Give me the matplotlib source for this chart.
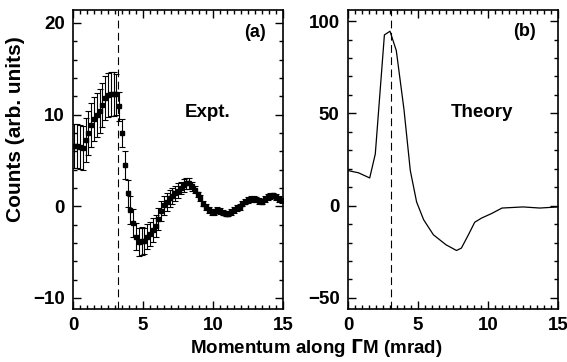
import numpy as np
import matplotlib.pyplot as plt
from matplotlib.ticker import MultipleLocator

plt.rcParams['font.family'] = ['Liberation Sans', 'DejaVu Sans']
plt.rcParams['font.weight'] = 'bold'
plt.rcParams['mathtext.fontset'] = 'dejavusans'

# 實驗數據 (a)
expt_x = [0.1, 0.3, 0.5, 0.7, 0.9, 1.1, 1.3, 1.5, 1.7, 1.9,
          2.1, 2.3, 2.5, 2.7, 2.9, 3.1, 3.3, 3.5, 3.7, 3.9,
          4.1, 4.3, 4.5, 4.7, 4.9, 5.1, 5.3, 5.5, 5.7, 5.9,
          6.1, 6.3, 6.5, 6.7, 6.9, 7.1, 7.3, 7.5, 7.7, 7.9,
          8.1, 8.3, 8.5, 8.7, 8.9, 9.1, 9.3, 9.5, 9.7, 9.9,
          10.1, 10.3, 10.5, 10.7, 10.9, 11.1, 11.3, 11.5, 11.7, 11.9,
          12.1, 12.3, 12.5, 12.7, 12.9, 13.1, 13.3, 13.5, 13.7, 13.9,
          14.1, 14.3, 14.5, 14.7, 14.9]
expt_y = [6.6, 6.6, 6.5, 6.4, 7.2, 8.0, 8.9, 9.5, 10.0, 10.4,
          11.0, 11.8, 12.1, 12.2, 12.25, 12.2, 10.9, 8.0, 4.5, 1.4,
          -0.4, -1.8, -3.3, -3.9, -3.8, -3.8, -3.3, -3.0, -2.6, -2.1,
          -1.4, -0.5, 0.1, 0.5, 0.85, 1.1, 1.4, 1.7, 2.0, 2.3,
          2.5, 2.5, 2.2, 1.8, 1.3, 0.9, 0.3, -0.1, -0.4, -0.6,
          -0.6, -0.4, -0.5, -0.7, -0.8, -0.8, -0.6, -0.4, -0.2, -0.1,
          0.3, 0.5, 0.7, 0.8, 0.8, 0.75, 0.6, 0.5, 0.8, 1.0,
          1.1, 1.2, 1.0, 0.8, 0.65]
expt_err = [2.4, 2.4, 2.4, 2.4, 2.4, 2.4, 2.4, 2.4, 2.4, 2.4,
            2.4, 2.4, 2.4, 2.4, 2.4, 2.2, 1.6, 1.5, 1.5, 1.5,
            1.5, 1.5, 1.5, 1.5, 1.5, 1.4, 1.4, 1.3, 1.3, 1.2,
            1.2, 1.1, 1.0, 1.0, 0.9, 0.9, 0.8, 0.8, 0.7, 0.7,
            0.6, 0.6, 0.5, 0.4, 0.3, 0.3, 0.3, 0.3, 0.3, 0.3,
            0.3, 0.3, 0.3, 0.3, 0.3, 0.3, 0.3, 0.3, 0.3, 0.3,
            0.3, 0.3, 0.3, 0.3, 0.3, 0.3, 0.3, 0.3, 0.3, 0.3,
            0.3, 0.3, 0.3, 0.3, 0.3]

# 理論曲線 (b)
theory_x = [0.0, 0.75, 1.55, 1.95, 2.6, 3.0, 3.45, 4.0, 4.45, 4.9,
            5.4, 6.1, 7.0, 7.75, 8.1, 8.6, 9.05, 9.55, 10.25, 11.0,
            12.5, 13.7, 15.0]
theory_y = [19.0, 17.8, 15.0, 28.0, 92.5, 94.5, 84.0, 52.0, 19.0, 2.0,
            -7.6, -15.8, -21.2, -24.3, -23.0, -15.8, -9.0, -6.7, -4.3, -1.3,
            -0.7, -1.3, -0.7]

fig = plt.figure(figsize=(5.67, 3.62), dpi=100)
ax1 = fig.add_axes([73 / 567, 1 - 309 / 362, 210 / 567, 299 / 362])
ax2 = fig.add_axes([348 / 567, 1 - 309 / 362, 210 / 567, 299 / 362])

ax1.errorbar(expt_x, expt_y, yerr=expt_err, fmt='s', color='black',
             markersize=3.2, elinewidth=0.8, capsize=2, capthick=0.8)
ax1.axvline(3.2, color='black', lw=0.8, dashes=(7, 4))
ax1.set_xlim(0, 15)
ax1.set_ylim(-11.2, 21.4)
ax1.yaxis.set_major_locator(MultipleLocator(10))
ax1.yaxis.set_minor_locator(MultipleLocator(2))
ax1.text(13.0, 18.9, '(a)', ha='center', va='center', fontsize=13, fontweight='bold')
ax1.text(9.6, 10.2, 'Expt.', ha='center', va='center', fontsize=13.5, fontweight='bold')
ax1.set_ylabel('Counts (arb. units)', fontsize=15, fontweight='bold')
ax1.yaxis.set_label_coords(-0.23, 0.6)

ax2.plot(theory_x, theory_y, color='black', lw=0.9)
ax2.axvline(3.05, color='black', lw=0.8, dashes=(7, 4))
ax2.set_xlim(0, 15)
ax2.set_ylim(-56, 106)
ax2.yaxis.set_major_locator(MultipleLocator(50))
ax2.yaxis.set_minor_locator(MultipleLocator(10))
ax2.text(12.6, 94.6, '(b)', ha='center', va='center', fontsize=13, fontweight='bold')
ax2.text(9.6, 50.5, 'Theory', ha='center', va='center', fontsize=13.5, fontweight='bold')

for ax in (ax1, ax2):
    ax.xaxis.set_major_locator(MultipleLocator(5))
    ax.xaxis.set_minor_locator(MultipleLocator(0.5))
    ax.tick_params(which='both', direction='in', top=True, right=True,
                   labelsize=13.5, width=1)
    ax.tick_params(which='major', length=6, pad=6)
    ax.tick_params(which='minor', length=3)
    for sp in ax.spines.values():
        sp.set_linewidth(1.2)

fig.text(316 / 567, 1 - 348 / 362, r'Momentum along $\Gamma$M (mrad)',
         ha='center', va='center', fontsize=13.5, fontweight='bold')

fig.savefig('out.png', dpi=100)
